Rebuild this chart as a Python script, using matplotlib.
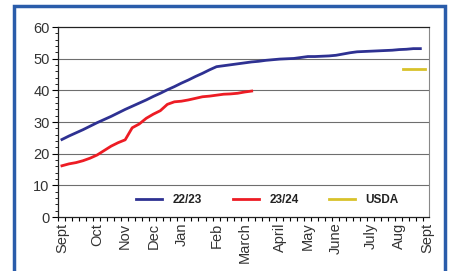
import numpy as np
import matplotlib.pyplot as plt
from matplotlib.patches import Rectangle

plt.rcParams['font.family'] = ['Liberation Sans', 'DejaVu Sans']

# week index from start of marketing year (Sept)
month_labels = ['Sept', 'Oct', 'Nov', 'Dec', 'Jan', 'Feb', 'March',
                'April', 'May', 'June', 'July', 'Aug', 'Sept']
month_weeks = [0, 5, 9, 13, 17, 22, 26, 31, 35, 39, 44, 48, 52]

s2223 = [24.5, 25.6, 26.6, 27.6, 28.7, 29.8, 30.8, 31.8, 32.9, 34.0,
         35.0, 36.0, 37.0, 38.1, 39.1, 40.2, 41.2, 42.3, 43.3, 44.4,
         45.4, 46.5, 47.5, 47.8, 48.1, 48.4, 48.7, 49.0, 49.2, 49.5,
         49.7, 49.9, 50.0, 50.1, 50.4, 50.7, 50.7, 50.8, 50.9, 51.1,
         51.5, 51.9, 52.2, 52.3, 52.4, 52.5, 52.6, 52.7, 52.9, 53.0,
         53.2, 53.2]
s2324 = [16.2, 16.8, 17.2, 17.8, 18.6, 19.6, 21.0, 22.4, 23.5, 24.4,
         28.2, 29.4, 31.2, 32.5, 33.6, 35.6, 36.4, 36.6, 37.0, 37.5,
         38.0, 38.2, 38.5, 38.8, 38.9, 39.1, 39.5, 39.8]
usda_weeks = [48.6, 51.6]
usda_value = 46.7

fig = plt.figure(figsize=(4.49, 2.71), dpi=100)
ax = fig.add_axes([0.129, 0.199, 0.826, 0.701])

ax.plot(np.arange(len(s2223)), s2223, color='#2e3192', lw=2, label='22/23')
ax.plot(np.arange(len(s2324)), s2324, color='#ed1c24', lw=2, label='23/24')
ax.plot(usda_weeks, [usda_value] * 2, color='#d8c22a', lw=2, label='USDA')

ax.set_ylim(0, 60)
ax.set_xlim(-0.57, 52.2)
ax.set_yticks(np.arange(0, 61, 10))
ax.set_yticks(np.arange(0, 61, 2), minor=True)
ax.set_xticks(month_weeks)
ax.set_xticklabels(month_labels, rotation=90)
ax.set_xticks(np.arange(0, 53) - 0.57, minor=True)
ax.tick_params(axis='y', which='major', length=4, width=0.8, labelsize=10.5,
               labelcolor='#333333', pad=2)
ax.tick_params(axis='y', which='minor', length=2.5, width=0.6)
ax.tick_params(axis='x', which='major', length=0, labelsize=10.5,
               labelcolor='#333333', pad=4)
ax.tick_params(axis='x', which='minor', length=3, width=0.8)

for v in range(10, 60, 10):
    ax.axhline(v, color='#6e6e6e', lw=0.8, zorder=0)
ax.spines['right'].set_color('#888888')
for s in ['left', 'bottom', 'top']:
    ax.spines[s].set_color('#222222')
    ax.spines[s].set_linewidth(0.9)

leg = ax.legend(loc='lower center', bbox_to_anchor=(0.565, 0.0), ncol=3,
                frameon=False, handlelength=2.2, handletextpad=0.9,
                columnspacing=2.6, prop={'weight': 'bold', 'size': 8.5})
for t in leg.get_texts():
    t.set_color('#222222')

fig.patches.append(Rectangle((14 / 449, -0.05), 431 / 449, 1.05 - 6 / 271,
                             transform=fig.transFigure, fill=False,
                             edgecolor='#2a5caa', lw=2.5))

fig.savefig('out.png', dpi=100)
